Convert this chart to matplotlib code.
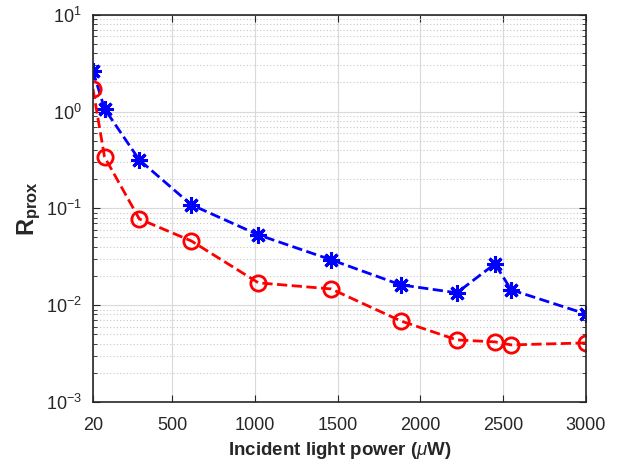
import matplotlib
matplotlib.use("Agg")
import matplotlib.pyplot as plt
from matplotlib.ticker import LogLocator, NullFormatter

plt.rcParams['font.family'] = ['Liberation Sans', 'DejaVu Sans']
plt.rcParams['mathtext.fontset'] = 'custom'
plt.rcParams['mathtext.rm'] = 'Liberation Sans'
plt.rcParams['mathtext.it'] = 'Liberation Sans:italic'
plt.rcParams['mathtext.bf'] = 'Liberation Sans:bold'

# incident light power (uW)
power = [20, 90, 300, 614, 1020, 1460, 1880, 2220, 2450, 2548, 3000]
# R_prox, two series
r_star = [2.64, 1.07, 0.317, 0.109, 0.0532, 0.0294, 0.0162, 0.0134, 0.0267, 0.0144, 0.0081]
r_circ = [1.72, 0.340, 0.0778, 0.0461, 0.0170, 0.0147, 0.00687, 0.00437, 0.00417, 0.00388, 0.00407]

xticks = [20, 500, 1000, 1500, 2000, 2500, 3000]

axcol = (0.15, 0.15, 0.15)

fig = plt.figure(figsize=(6.28, 4.63), dpi=100)
ax = fig.add_axes([0.148, 0.132, 0.785, 0.836])

ax.plot(power, r_star, '--', color='blue', lw=2, marker=(8, 2, 0), ms=12,
        mec='blue', mfc='blue', mew=2.2)
ax.plot(power, r_circ, '--', color='red', lw=2, marker='o', ms=11,
        mec='red', mfc='none', mew=2)

ax.set_yscale('log')
ax.set_xlim(20, 3000)
ax.set_ylim(1e-3, 1e1)
ax.set_xticks(xticks)
ax.set_xticklabels([str(t) for t in xticks])
ax.yaxis.set_major_locator(LogLocator(base=10, numticks=10))
ax.yaxis.set_minor_locator(LogLocator(base=10, subs=range(2, 10), numticks=20))
ax.yaxis.set_minor_formatter(NullFormatter())

ax.grid(True, which='major', color=(0.85, 0.85, 0.85), lw=0.8)
ax.grid(True, which='minor', axis='y', color=(0.78, 0.78, 0.78), lw=0.8, ls=(0, (1, 2)))
ax.set_axisbelow(True)

for s in ax.spines.values():
    s.set_color(axcol)
    s.set_linewidth(1.2)
ax.tick_params(which='both', direction='in', top=True, right=True,
               colors=axcol, labelsize=13, labelcolor=axcol)
ax.tick_params(which='major', length=5)
ax.tick_params(which='minor', length=3)
ax.tick_params(axis='x', pad=11)
ax.tick_params(axis='y', pad=8)

ax.set_xlabel(r'Incident light power ($\mu$W)', fontsize=13.5, fontweight='bold', color=axcol, labelpad=4)
ax.set_ylabel(r'$\mathbf{R_{prox}}$', fontsize=17, color=axcol, labelpad=2)

fig.savefig('out.png', dpi=100)
